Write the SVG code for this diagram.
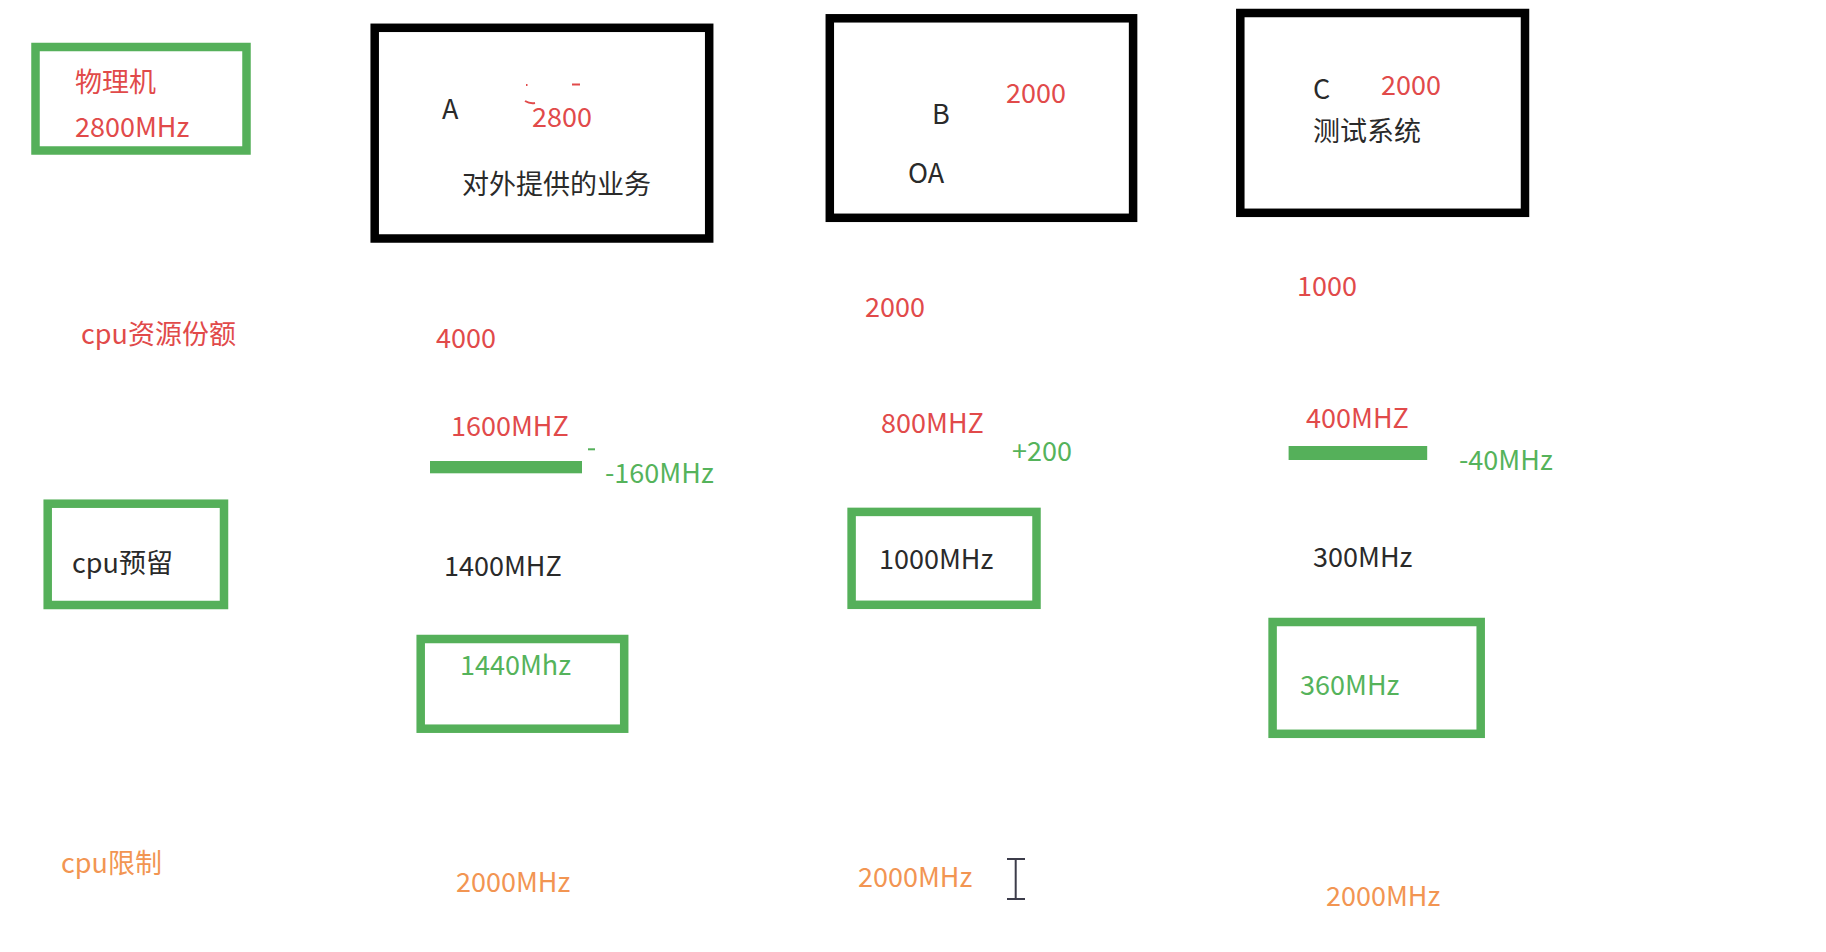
<svg xmlns="http://www.w3.org/2000/svg" width="1826" height="952" viewBox="0 0 1826 952">
<style>
text{font-family:"Noto Sans CJK SC","Noto Sans",sans-serif;font-size:27px}
.r{fill:#e14a4a}
.g{fill:#55b35b}
.o{fill:#f29552}
.k{fill:#2a2a2a}
.gb{fill:none;stroke:#55b05a;stroke-width:8.5}
.kb{fill:none;stroke:#000;stroke-width:8.5}
.bar{fill:#55b05a}
</style>
<rect width="1826" height="952" fill="#fff"/>
<g id="connectors"/>
<g id="physical">
<rect class="gb" x="35.5" y="47" width="211" height="103.5"/>
<text class="r" x="75" y="92" font-size="28">物理机</text>
<text class="r" x="75" y="137" font-size="28">2800MHz</text>
</g>
<g id="vmA">
<rect class="kb" x="374.7" y="27.8" width="334.5" height="210.7"/>
<text class="k" x="442" y="119">A</text>
<path d="M525 101 q5 3 10 2 M526 85 h1.5 M572 84.5 h8" fill="none" stroke="#e14a4a" stroke-width="2"/>
<text class="r" x="532" y="127" font-size="28">2800</text>
<text class="k" x="462" y="194" font-size="28">对外提供的业务</text>
</g>
<g id="vmB">
<rect class="kb" x="829.8" y="18.3" width="303.3" height="199.5"/>
<text class="r" x="1006" y="103" font-size="28">2000</text>
<text class="k" x="932" y="124">B</text>
<text class="k" x="908" y="183">OA</text>
</g>
<g id="vmC">
<rect class="kb" x="1240.3" y="13" width="284.7" height="199.8"/>
<text class="k" x="1313" y="99">C</text>
<text class="r" x="1381" y="95" font-size="28">2000</text>
<text class="k" x="1313" y="141" font-size="28">测试系统</text>
</g>
<g id="shares">
<text class="r" x="81" y="344" font-size="27.7">cpu资源份额</text>
<text class="r" x="436" y="348">4000</text>
<text class="r" x="865" y="317">2000</text>
<text class="r" x="1297" y="296">1000</text>
</g>
<g id="allocA">
<text class="r" x="451" y="436" font-size="22">1600MHZ</text>
<rect class="bar" x="430" y="461" width="152" height="12.3"/>
<rect class="bar" x="588" y="448.3" width="7" height="2"/>
<text class="g" x="605" y="483" font-size="26">-160MHz</text>
</g>
<g id="allocB">
<text class="r" x="881" y="433" font-size="27.5">800MHZ</text>
<text class="g" x="1012" y="461">+200</text>
</g>
<g id="allocC">
<text class="r" x="1306" y="428">400MHZ</text>
<rect class="bar" x="1288.6" y="446" width="138.6" height="14"/>
<text class="g" x="1459" y="470">-40MHz</text>
</g>
<g id="reserve">
<rect class="gb" x="47.7" y="503.7" width="176.3" height="101.3"/>
<text class="k" x="72" y="573" font-size="28">cpu预留</text>
</g>
<g id="reserveA">
<text class="k" x="444" y="576" font-size="28">1400MHZ</text>
<rect class="gb" x="420.7" y="639" width="203.5" height="89.7"/>
<text class="g" x="460" y="675">1440Mhz</text>
</g>
<g id="reserveB">
<rect class="gb" x="851.6" y="511.9" width="184.9" height="92.9"/>
<text class="k" x="879" y="569">1000MHz</text>
</g>
<g id="reserveC">
<text class="k" x="1313" y="567">300MHz</text>
<rect class="gb" x="1272.6" y="622" width="208.1" height="111.8"/>
<text class="g" x="1300" y="695">360MHz</text>
</g>
<g id="limits">
<text class="o" x="61" y="873" font-size="28">cpu限制</text>
<text class="o" x="456" y="892">2000MHz</text>
<text class="o" x="858" y="887">2000MHz</text>
<text class="o" x="1326" y="906">2000MHz</text>
</g>
<g id="cursor" fill="none" stroke="#3c3c4a" stroke-width="2">
<path d="M1015.7 859 V899 M1007 859 h18 M1007 899 h18"/>
</g>
</svg>
